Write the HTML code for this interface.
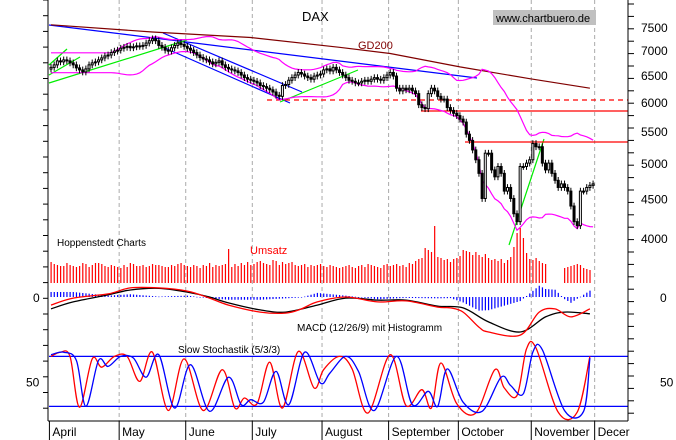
<!DOCTYPE html>
<html><head><meta charset="utf-8"><style>
html,body{margin:0;padding:0;background:#fff;}
svg{display:block;font-family:"Liberation Sans",Arial,sans-serif;}
</style></head><body>
<svg id="c" width="676" height="440" viewBox="0 0 676 440" xmlns="http://www.w3.org/2000/svg">
<rect x="0" y="0" width="676" height="440" fill="#fff"/>
<g id="grid"></g><g id="lines"></g><g id="bands"></g><g id="candles"></g><g id="vol"></g><g id="macd"></g><g id="stoch"></g><g id="axes"></g>
<text x="302" y="21" font-size="13">DAX</text>
<rect x="493" y="10" width="103" height="15" fill="#c0c0c0"/>
<text x="496" y="22" font-size="11">www.chartbuero.de</text>
<text x="358" y="49" font-size="11" fill="#800000">GD200</text>
<text x="57" y="246" font-size="10">Hoppenstedt Charts</text>
<text x="250" y="254" font-size="11" fill="#f00">Umsatz</text>
<text x="297" y="331" font-size="10">MACD (12/26/9) mit Histogramm</text>
<text x="178" y="353" font-size="10">Slow Stochastik (5/3/3)</text>
</svg>
<script>
const closes=[6650,6700,6780,6760,6800,6780,6740,6700,6640,6600,6560,6620,6700,6740,6760,6800,6840,6880,6900,6950,6980,7000,
7040,7060,7080,7050,7070,7090,7080,7100,7150,7200,7240,7200,7100,7060,7000,6980,7050,7100,7150,7120,7080,
7040,7000,6950,6900,6850,6820,6800,6760,6720,6750,6780,6700,6650,6620,6600,6580,6550,6500,6450,6420,6400,
6380,6350,6300,6280,6250,6220,6180,6120,6100,6300,6320,6400,6450,6500,6550,6520,6480,6450,6420,6480,6500,6520,
6600,6620,6580,6650,6600,6550,6500,6450,6400,6380,6350,6350,6380,6400,6380,6420,6450,6420,6400,6450,6500,
6550,6480,6250,6200,6250,6220,6250,6200,6150,5950,5900,5880,6150,6250,6200,6100,6050,6050,5900,5850,5800,5760,
5700,5650,5450,5350,5200,5050,4850,4500,5150,5150,4900,4800,4950,4850,4600,4650,4500,4300,4200,4950,4950,5000,5050,
5300,5250,5250,5000,4900,5000,4850,4750,4650,4700,4650,4600,4400,4200,4150,4600,4600,4650,4680,4700];
const volumes=[84,76,72,68,68,80,72,68,64,68,80,76,64,72,80,80,76,68,64,72,68,64,
60,72,64,80,76,68,68,72,64,68,76,72,72,68,64,64,72,68,76,80,72,
68,64,72,68,60,72,68,80,64,72,68,72,76,136,64,76,68,80,72,84,72,
76,84,88,80,76,72,92,88,72,84,76,80,84,72,68,72,76,64,72,68,72,76,
68,64,72,68,64,60,64,68,72,64,60,68,72,64,76,72,68,64,60,72,76,
68,72,76,68,72,64,80,76,88,96,100,140,132,124,228,104,100,92,96,84,96,100,
108,132,128,124,112,124,112,104,116,100,92,96,88,96,80,92,104,144,200,220,180,120,96,
92,100,88,80,76,0,0,0,0,0,60,64,68,72,76,72,60,56,52];
const monthNames=["April","May","June","July","August","September","October","November","Decer"];
const monthStart=[0,22,43,64,86,107,129,152,172];
const gdDays=[0,32,63,91,107,129,151,170];
const gdVals=[7550,7390,7270,7060,6930,6660,6430,6250];
const sigDays=[0,7,18,25,34,43,50,56,66,74,84,93,103,112,122,130,138,148,156,162,170];
const sigVals=[-170,-70,30,100,125,70,0,-85,-185,-215,-115,-15,-45,-45,-130,-155,-355,-500,-285,-215,-240];
const macdDays=[0,7,18,25,34,43,50,56,66,74,79,84,93,103,112,122,126,130,135,138,148,154,159,164,170];
const macdVals=[-115,-15,45,130,130,85,-15,-115,-215,-230,-170,-70,0,-70,-55,-145,-155,-215,-430,-500,-545,-215,-170,-285,-170];
const kDays=[0,3,6,9,13,16,20,24,28,32,37,42,48,54,58,61,65,69,73,78,83,86,91,95,100,107,112,117,120,123,128,134,140,143,147,150,153,160,166,170];
const kVals=[80,85,80,19,77,67,80,80,50,85,15,77,15,64,18,30,23,73,18,86,42,64,80,65,12,82,21,40,18,72,23,12,64,42,33,89,90,13,13,80];
const dDays=[0,4,8,11,15,18,22,26,30,34,39,44,50,56,60,63,67,71,75,80,85,88,93,97,102,109,114,119,122,125,130,136,142,145,149,152,155,162,168,170];
const dVals=[82,85,75,20,75,68,80,78,55,82,18,70,14,55,22,28,25,62,22,85,48,60,80,62,15,80,22,38,20,65,25,14,55,45,35,85,88,15,14,78];

const NS="http://www.w3.org/2000/svg";
const X=d=>51+d*3.17;
const PY=v=>27+335.7*Math.log(7500/v);
const VY=v=>283-v*0.25;
const MY=v=>297-v*0.07;
const SY=v=>423-v*0.833;
function mk(tag,attrs,parent){const e=document.createElementNS(NS,tag);for(const k in attrs)e.setAttribute(k,attrs[k]);document.getElementById(parent).appendChild(e);return e;}
function poly(days,vals,yf,color,parent,name){
  const pts=days.map((d,i)=>X(d).toFixed(1)+","+yf(vals[i]).toFixed(1)).join(" ");
  const e=mk("polyline",{points:pts,fill:"none",stroke:color,"stroke-width":1.2},parent);
  
  
  return e;
}
function smooth(days,vals,yf,color,parent,name){
  const p=days.map((d,i)=>[X(d),yf(vals[i])]);
  let s="M"+p[0][0].toFixed(1)+","+p[0][1].toFixed(1);
  for(let i=0;i<p.length-1;i++){
    const p0=p[Math.max(0,i-1)],p1=p[i],p2=p[i+1],p3=p[Math.min(p.length-1,i+2)];
    const c1=[p1[0]+(p2[0]-p0[0])/6,p1[1]+(p2[1]-p0[1])/6];
    const c2=[p2[0]-(p3[0]-p1[0])/6,p2[1]-(p3[1]-p1[1])/6];
    s+=" C"+c1.map(v=>v.toFixed(1)).join(",")+" "+c2.map(v=>v.toFixed(1)).join(",")+" "+p2.map(v=>v.toFixed(1)).join(",");
  }
  const e=mk("path",{d:s,fill:"none",stroke:color,"stroke-width":1.3},parent);
  
  
}
function interp(days,vals,d){for(let i=1;i<days.length;i++){if(d<=days[i]){const t=(d-days[i-1])/(days[i]-days[i-1]);return vals[i-1]+t*(vals[i]-vals[i-1]);}}return vals[vals.length-1];}

monthStart.forEach((m,i)=>{
  const x=X(m-0.5);
  if(i>0){const g=mk("line",{x1:x,y1:0,x2:x,y2:421,stroke:"#aaa","stroke-dasharray":"4,3"},"grid");
  
  }
  const t=mk("line",{x1:x,y1:421,x2:x,y2:440,stroke:"#000"},"axes");
  
  
  const l=mk("text",{x:x+3,y:436,"font-size":12},"axes");
  l.textContent=monthNames[i];
  
  
});

const tl=[[49,25,477,78,"#00f"],[163,33,302,92,"#00f"],[165,48,290,103,"#00f"],
[49,83,187,40,"#0e0"],[49,75,80,57,"#0e0"],[49,65,67,49,"#0e0"],[280,102,358,70,"#0e0"],[509,245,544,139,"#0e0"]];
tl.forEach(a=>{const e=mk("line",{x1:a[0],y1:a[1],x2:a[2],y2:a[3],stroke:a[4],"stroke-width":1.2},"lines");
  
  });
[[267,100,true],[421,111,false],[465,142,false]].forEach(a=>{
  const e=mk("line",{x1:a[0],y1:a[1],x2:628,y2:a[1],stroke:"#f00","stroke-width":1.3},"lines");
  if(a[2])e.setAttribute("stroke-dasharray","5,4");
  
  });
poly(gdDays,gdVals,PY,"#800000","lines","gd200-line");

const up=[],lo=[],dd=[];
for(let i=0;i<closes.length;i++){
  const s=Math.max(0,Math.min(i-19,closes.length-20)), w=closes.slice(s,Math.max(i+1,s+20));
  const m=w.reduce((a,b)=>a+b,0)/w.length;
  const sd=Math.sqrt(w.reduce((a,b)=>a+(b-m)*(b-m),0)/w.length);
  up.push(m+2*sd);lo.push(m-2*sd);dd.push(i);
}
poly(dd,up,PY,"#f0f","bands","bollinger-upper");
poly(dd,lo,PY,"#f0f","bands","bollinger-lower");

closes.forEach((c,i)=>{
  const o=i?closes[i-1]:c*0.995, x=X(i);
  const hi=Math.max(o,c)*1.01, lw=Math.min(o,c)*0.99;
  const w=mk("line",{x1:x,y1:PY(hi),x2:x,y2:PY(lw),stroke:"#000"},"candles");
  
  
  const top=PY(Math.max(o,c)), bot=PY(Math.min(o,c));
  const r=mk("rect",{x:x-1,y:top,width:2,height:Math.max(1,bot-top),fill:c>=o?"#fff":"#000",stroke:"#000","stroke-width":1},"candles");
  
  
});

volumes.forEach((v,i)=>{ if(!v)return;
  const r=mk("rect",{x:X(i)-0.5,y:VY(v),width:1.2,height:283-VY(v),fill:"#f00"},"vol");
  
  });

for(let d=0;d<=170;d++){
  const h=(interp(macdDays,macdVals,d)-interp(sigDays,sigVals,d))*1.3;
  const y1=MY(0),y2=MY(h);
  const r=mk("rect",{x:X(d)-0.5,y:Math.min(y1,y2),width:1.2,height:Math.max(0.6,Math.abs(y2-y1)),fill:"#00f"},"macd");
  
  
}
smooth(sigDays,sigVals,MY,"#000","macd","macd-signal-line");
smooth(macdDays,macdVals,MY,"#f00","macd","macd-line");

[80,20].forEach(v=>{const e=mk("line",{x1:49,y1:SY(v),x2:628,y2:SY(v),stroke:"#00f","stroke-width":1.3},"stoch");
  
  });
smooth(kDays,kVals,SY,"#f00","stoch","stochastic-k-line");
smooth(dDays,dVals,SY,"#00f","stoch","stochastic-d-line");

[[48,0,48,421],[628,0,628,421],[48,421,628,421]].forEach(a=>{const e=mk("line",{x1:a[0],y1:a[1],x2:a[2],y2:a[3],stroke:"#000"},"axes");
  
  });
for(let y=0;y<=421;y+=15.7){const e=mk("line",{x1:43,y1:y,x2:48,y2:y,stroke:"#000"},"axes");
  
  }
for(let y=4;y<=421;y+=12.4){const e=mk("line",{x1:628,y1:y,x2:634,y2:y,stroke:"#000"},"axes");
  
  }
const priceTicks=[7500,7000,6500,6000,5500,5000,4500,4000];
priceTicks.forEach(v=>{const t=mk("text",{x:641,y:PY(v)+5,"font-size":12},"axes");
  t.textContent=v;
  
  });
[["0",33,MY(0)+5],["0",660,MY(0)+5],["50",26,SY(50)+5],["50",660,SY(50)+5]].forEach(a=>{
  const t=mk("text",{x:a[1],y:a[2],"font-size":12},"axes");t.textContent=a[0];
  
  });
</script>
</body></html>
